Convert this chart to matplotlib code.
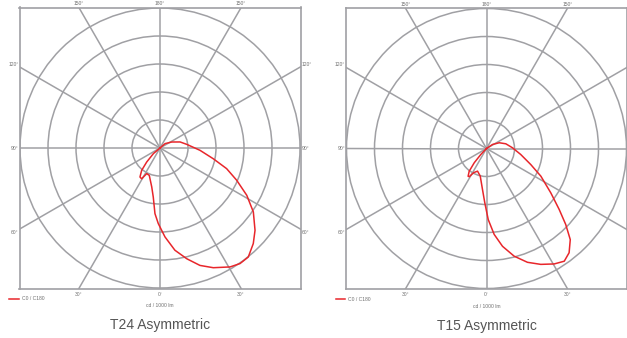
import numpy as np
import matplotlib.pyplot as plt
from matplotlib.patches import Circle

plt.rcParams['font.family'] = ['Liberation Sans', 'DejaVu Sans']

# luminous intensity, cd / 1000 lm; gamma in degrees from 0 (down),
# positive towards C0 (right), negative towards C180 (left)
t24_gamma = [-55, -49.6, -43.5, -39.4, -34.6, -30.8, -27.4, -21.4, -12, -7.8, -4.4, -1.3,
             3.2, 8.3, 13.6, 18.8, 24, 30.5, 34.7, 39, 44.3, 49.1, 55.6, 61.4, 67.2,
             72.8, 78.6, 86.7, 97.9, 106.7, 117.1, 130.7, 140]
t24_cd = [0, 31, 69, 103, 126, 128, 103, 105, 142, 177, 235, 270,
          318, 369, 407, 443, 468, 493, 502, 501, 477, 449, 404, 353, 297,
          249, 194, 143, 96, 75, 47, 24, 0]

t15_gamma = [-50, -43.5, -40.7, -37.3, -33.5, -31.4, -28.1, -21.6, -12.8, -5.6, -1.8, 1.4,
             5.1, 9.3, 14.4, 19.8, 25.1, 30.4, 34.6, 38.4, 42.6, 46.2, 50, 55.4, 63,
             70.1, 80.1, 91.5, 103.7, 114.2, 123.7, 135]
t15_cd = [0, 30, 67, 102, 119, 118, 98, 87, 101, 147, 194, 254,
          308, 354, 397, 432, 457, 478, 489, 475, 442, 392, 339, 279, 218,
          168, 124, 93, 71, 50, 26, 0]

# title, gamma, intensity, centre x/y (px), right-hand labels visible
charts = [("T24 Asymmetric", t24_gamma, t24_cd, 160.0, 148.0, True),
          ("T15 Asymmetric", t15_gamma, t15_cd, 486.5, 148.5, False)]

ring_step = 100
px_per_cd = 28.0 / ring_step
W, H = 627, 338
grid_col = '#a0a0a4'
text_col = '#707070'
red = '#e8262b'

fig = plt.figure(figsize=(W / 100, H / 100), dpi=100)

for title, gamma, cd, cx, cy, right_labels in charts:
    half = 140.5
    ax = fig.add_axes([(cx - half) / W, (H - cy - half) / H, 2 * half / W, 2 * half / H])
    lim = half / px_per_cd
    ax.set_xlim(-lim, lim)
    ax.set_ylim(-lim, lim)
    ax.set_xticks([])
    ax.set_yticks([])
    for s in ax.spines.values():
        s.set_color(grid_col)
        s.set_linewidth(1.2)

    for r in range(ring_step, 6 * ring_step, ring_step):
        ax.add_patch(Circle((0, 0), r, fill=False, color=grid_col, lw=1.1))
    for a in range(0, 360, 30):
        t = np.radians(a)
        ax.plot([0, 2 * lim * np.sin(t)], [0, -2 * lim * np.cos(t)], color=grid_col, lw=1.1)

    g = np.radians(gamma)
    r = np.array(cd, dtype=float)
    line, = ax.plot(r * np.sin(g), -r * np.cos(g), color=red, lw=1.1, label="C0 / C180",
                    solid_joinstyle='round')

    fs = 3.6
    off = 81 / px_per_cd
    for x, lab in [(-off, "150°"), (0, "180°"), (off, "150°")]:
        ax.text(x, lim + 1.5 / px_per_cd, lab, ha='center', va='bottom', fontsize=fs,
                color=text_col, clip_on=False)
    for x, lab in [(-off, "30°"), (0, "0°"), (off, "30°")]:
        ax.text(x, -lim - 3 / px_per_cd, lab, ha='center', va='top', fontsize=fs,
                color=text_col, clip_on=False)
    for y, lab in [(off + 3 / px_per_cd, "120°"), (0, "90°"), (-off - 3 / px_per_cd, "60°")]:
        ax.text(-lim - 1 / px_per_cd, y, lab, ha='right', va='center', fontsize=fs,
                color=text_col, clip_on=False)
        if right_labels:
            ax.text(lim + 1 / px_per_cd, y, lab, ha='left', va='center', fontsize=fs,
                    color=text_col, clip_on=False)

    ax.text(0, -lim - 17 / px_per_cd, "cd / 1000 lm", ha='center', va='center',
            fontsize=fs, color=text_col, clip_on=False)
    ax.legend(handles=[line], loc='upper left', bbox_to_anchor=(-10.5 / 281, -8 / 281),
              frameon=False, fontsize=fs, handlelength=1.9, handletextpad=0.6,
              borderpad=0, borderaxespad=0, labelcolor=text_col)
    ax.text(0, -lim - 37 / px_per_cd, title, ha='center', va='center', fontsize=10,
            color='#555555', clip_on=False)

fig.savefig("out.png", dpi=100)
